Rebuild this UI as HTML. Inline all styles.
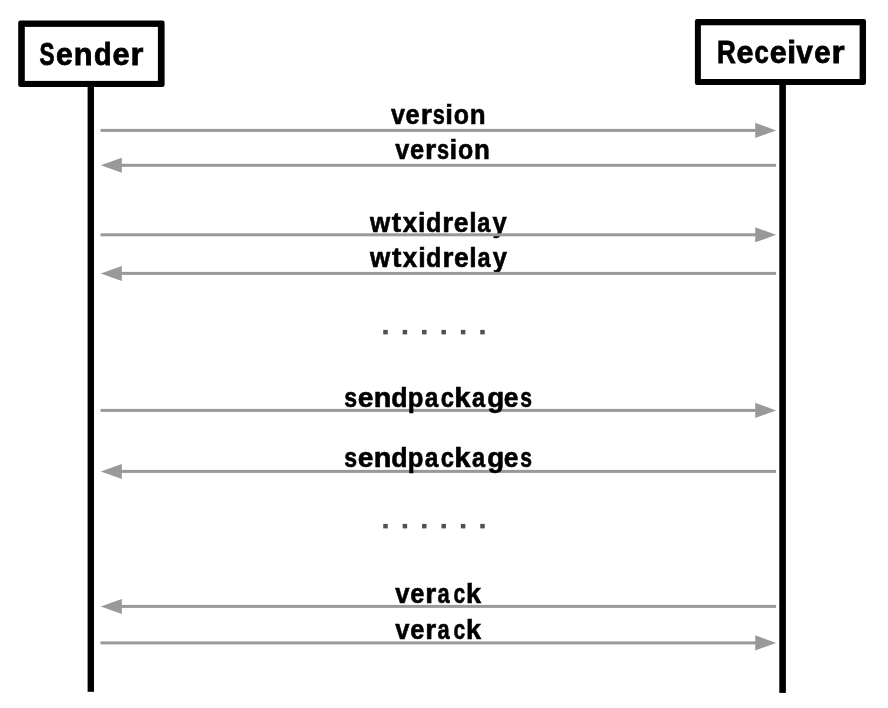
<!DOCTYPE html>
<html>
<head>
<meta charset="utf-8">
<style>
html,body{margin:0;padding:0;background:#fff;}
body{width:888px;height:708px;overflow:hidden;position:relative;}
svg{position:absolute;left:0;top:0;will-change:transform;}
text{font-family:"Liberation Sans",sans-serif;font-weight:bold;fill:#000;}
</style>
</head>
<body>
<svg width="888" height="708" viewBox="0 0 888 708">
<rect x="87.6" y="84" width="6.4" height="607.8" fill="#000"/>
<rect x="779.3" y="82" width="6.6" height="610.9" fill="#000"/>
<rect x="18.2" y="20.5" width="146.4" height="66.5" rx="2.3" fill="#000"/>
<rect x="24.8" y="26.9" width="133.1" height="54.0" fill="#fff"/>
<rect x="694.9" y="18.9" width="171.1" height="66.2" rx="2.3" fill="#000"/>
<rect x="700.9" y="25.3" width="158.7" height="53.7" fill="#fff"/>
<text transform="matrix(0.7525,0,0,1.0490,39.57,65)" font-size="30" stroke="#000" stroke-width="0.8">S</text><text transform="matrix(1.0033,0,0,1.0340,56.05,65)" font-size="30" stroke="#000" stroke-width="0.8">e</text><text transform="matrix(1.0230,0,0,1.0380,73.87,65)" font-size="30" stroke="#000" stroke-width="0.8">n</text><text transform="matrix(0.9594,0,0,1.0310,93.98,65)" font-size="30" stroke="#000" stroke-width="0.8">d</text><text transform="matrix(1.0230,0,0,1.0340,112.53,65)" font-size="30" stroke="#000" stroke-width="0.8">e</text><text transform="matrix(1.1000,0,0,1.0340,130.45,65)" font-size="30" stroke="#000" stroke-width="0.8">r</text><text transform="matrix(0.8691,0,0,1.0276,717.10,63)" font-size="30" stroke="#000" stroke-width="0.8">R</text><text transform="matrix(1.0164,0,0,1.0480,736.44,63)" font-size="30" stroke="#000" stroke-width="0.8">e</text><text transform="matrix(0.8516,0,0,1.0480,754.46,63)" font-size="30" stroke="#000" stroke-width="0.8">c</text><text transform="matrix(1.0098,0,0,1.0480,769.74,63)" font-size="30" stroke="#000" stroke-width="0.8">e</text><text transform="matrix(1.0611,0,0,1.0670,787.20,63)" font-size="30" stroke="#000" stroke-width="0.8">i</text><text transform="matrix(0.9913,0,0,1.0190,796.35,63)" font-size="30" stroke="#000" stroke-width="0.8">v</text><text transform="matrix(0.9803,0,0,1.0480,814.16,63)" font-size="30" stroke="#000" stroke-width="0.8">e</text><text transform="matrix(1.1200,0,0,1.0430,831.62,63)" font-size="30" stroke="#000" stroke-width="0.8">r</text>
<text transform="matrix(0.9000,0,0,1.0000,391.03,124)" font-size="28" stroke="#000" stroke-width="0.6">v</text><text transform="matrix(0.9088,0,0,1.0000,405.62,124)" font-size="28" stroke="#000" stroke-width="0.6">e</text><text transform="matrix(1.0324,0,0,1.0000,420.80,124)" font-size="28" stroke="#000" stroke-width="0.6">r</text><text transform="matrix(0.7757,0,0,1.0000,432.72,124)" font-size="28" stroke="#000" stroke-width="0.6">s</text><text transform="matrix(0.9882,0,0,1.0000,445.27,124)" font-size="28" stroke="#000" stroke-width="0.6">i</text><text transform="matrix(0.8903,0,0,1.0000,453.63,124)" font-size="28" stroke="#000" stroke-width="0.6">o</text><text transform="matrix(0.9263,0,0,1.0000,469.81,124)" font-size="28" stroke="#000" stroke-width="0.6">n</text><text transform="matrix(0.9000,0,0,1.0000,395.33,158.9)" font-size="28" stroke="#000" stroke-width="0.6">v</text><text transform="matrix(0.9088,0,0,1.0000,409.92,158.9)" font-size="28" stroke="#000" stroke-width="0.6">e</text><text transform="matrix(1.0324,0,0,1.0000,425.10,158.9)" font-size="28" stroke="#000" stroke-width="0.6">r</text><text transform="matrix(0.7757,0,0,1.0000,437.02,158.9)" font-size="28" stroke="#000" stroke-width="0.6">s</text><text transform="matrix(0.9882,0,0,1.0000,449.57,158.9)" font-size="28" stroke="#000" stroke-width="0.6">i</text><text transform="matrix(0.8903,0,0,1.0000,457.93,158.9)" font-size="28" stroke="#000" stroke-width="0.6">o</text><text transform="matrix(0.9263,0,0,1.0000,474.11,158.9)" font-size="28" stroke="#000" stroke-width="0.6">n</text><text transform="matrix(0.9279,0,0,1.0000,369.96,231.7)" font-size="28" stroke="#000" stroke-width="0.6">w</text><text transform="matrix(1.0054,0,0,1.0000,391.85,231.7)" font-size="28" stroke="#000" stroke-width="0.6">t</text><text transform="matrix(0.9250,0,0,1.0000,402.68,231.7)" font-size="28" stroke="#000" stroke-width="0.6">x</text><text transform="matrix(0.9647,0,0,1.0000,418.06,231.7)" font-size="28" stroke="#000" stroke-width="0.6">i</text><text transform="matrix(0.8976,0,0,1.0000,425.94,231.7)" font-size="28" stroke="#000" stroke-width="0.6">d</text><text transform="matrix(1.0054,0,0,1.0000,442.24,231.7)" font-size="28" stroke="#000" stroke-width="0.6">r</text><text transform="matrix(0.9474,0,0,1.0000,453.74,231.7)" font-size="28" stroke="#000" stroke-width="0.6">e</text><text transform="matrix(0.9529,0,0,1.0000,469.13,231.7)" font-size="28" stroke="#000" stroke-width="0.6">l</text><text transform="matrix(0.8387,0,0,1.0000,477.23,231.7)" font-size="28" stroke="#000" stroke-width="0.6">a</text><text transform="matrix(0.9125,0,0,1.0000,492.58,231.7)" font-size="28" stroke="#000" stroke-width="0.6">y</text><text transform="matrix(0.9279,0,0,1.0000,370.11,267)" font-size="28" stroke="#000" stroke-width="0.6">w</text><text transform="matrix(1.0054,0,0,1.0000,392.00,267)" font-size="28" stroke="#000" stroke-width="0.6">t</text><text transform="matrix(0.9250,0,0,1.0000,402.83,267)" font-size="28" stroke="#000" stroke-width="0.6">x</text><text transform="matrix(0.9647,0,0,1.0000,418.21,267)" font-size="28" stroke="#000" stroke-width="0.6">i</text><text transform="matrix(0.8976,0,0,1.0000,426.09,267)" font-size="28" stroke="#000" stroke-width="0.6">d</text><text transform="matrix(1.0054,0,0,1.0000,442.39,267)" font-size="28" stroke="#000" stroke-width="0.6">r</text><text transform="matrix(0.9474,0,0,1.0000,453.89,267)" font-size="28" stroke="#000" stroke-width="0.6">e</text><text transform="matrix(0.9529,0,0,1.0000,469.28,267)" font-size="28" stroke="#000" stroke-width="0.6">l</text><text transform="matrix(0.8387,0,0,1.0000,477.38,267)" font-size="28" stroke="#000" stroke-width="0.6">a</text><text transform="matrix(0.9125,0,0,1.0000,492.73,267)" font-size="28" stroke="#000" stroke-width="0.6">y</text><text transform="matrix(0.9125,0,0,1.0000,395.23,603.2)" font-size="28" stroke="#000" stroke-width="0.6">v</text><text transform="matrix(0.9123,0,0,1.0000,410.32,603.2)" font-size="28" stroke="#000" stroke-width="0.6">e</text><text transform="matrix(1.0054,0,0,1.0000,425.29,603.2)" font-size="28" stroke="#000" stroke-width="0.6">r</text><text transform="matrix(0.7806,0,0,1.0000,437.61,603.2)" font-size="28" stroke="#000" stroke-width="0.6">a</text><text transform="matrix(0.7509,0,0,1.0000,453.49,603.2)" font-size="28" stroke="#000" stroke-width="0.6">c</text><text transform="matrix(0.9684,0,0,1.0000,466.11,603.2)" font-size="28" stroke="#000" stroke-width="0.6">k</text><text transform="matrix(0.9125,0,0,1.0000,395.23,639.3)" font-size="28" stroke="#000" stroke-width="0.6">v</text><text transform="matrix(0.9123,0,0,1.0000,410.32,639.3)" font-size="28" stroke="#000" stroke-width="0.6">e</text><text transform="matrix(1.0054,0,0,1.0000,425.29,639.3)" font-size="28" stroke="#000" stroke-width="0.6">r</text><text transform="matrix(0.7806,0,0,1.0000,437.61,639.3)" font-size="28" stroke="#000" stroke-width="0.6">a</text><text transform="matrix(0.7509,0,0,1.0000,453.49,639.3)" font-size="28" stroke="#000" stroke-width="0.6">c</text><text transform="matrix(0.9684,0,0,1.0000,466.11,639.3)" font-size="28" stroke="#000" stroke-width="0.6">k</text>
<g fill="#999999">
<rect x="100.5" y="128.90" width="655.70" height="3"/><polygon points="755.20,122.85 776.20,130.40 755.20,137.95"/><rect x="120.80" y="163.80" width="655.30" height="3"/><polygon points="121.80,157.80 100.80,165.30 121.80,172.80"/><rect x="100.5" y="233.30" width="655.70" height="3"/><polygon points="755.20,227.25 776.20,234.80 755.20,242.35"/><rect x="120.80" y="271.90" width="655.30" height="3"/><polygon points="121.80,265.90 100.80,273.40 121.80,280.90"/><rect x="100.5" y="408.90" width="655.70" height="3"/><polygon points="755.20,402.85 776.20,410.40 755.20,417.95"/><rect x="120.80" y="469.90" width="655.30" height="3"/><polygon points="121.80,463.90 100.80,471.40 121.80,478.90"/><rect x="120.80" y="604.90" width="655.30" height="3"/><polygon points="121.80,598.90 100.80,606.40 121.80,613.90"/><rect x="100.5" y="641.40" width="655.70" height="3"/><polygon points="755.20,635.35 776.20,642.90 755.20,650.45"/>
</g>
<text transform="matrix(0.8257,0,0,1.0000,344.18,407)" font-size="28" stroke="#000" stroke-width="0.6">s</text><text transform="matrix(1.0105,0,0,1.0000,357.84,407)" font-size="28" stroke="#000" stroke-width="0.6">e</text><text transform="matrix(1.0316,0,0,1.0000,373.65,407)" font-size="28" stroke="#000" stroke-width="0.6">n</text><text transform="matrix(0.9559,0,0,1.0000,391.18,407)" font-size="28" stroke="#000" stroke-width="0.6">d</text><text transform="matrix(0.9153,0,0,1.0000,407.73,407)" font-size="28" stroke="#000" stroke-width="0.6">p</text><text transform="matrix(0.8774,0,0,1.0000,424.76,407)" font-size="28" stroke="#000" stroke-width="0.6">a</text><text transform="matrix(0.8491,0,0,1.0000,440.66,407)" font-size="28" stroke="#000" stroke-width="0.6">c</text><text transform="matrix(1.0456,0,0,1.0000,454.17,407)" font-size="28" stroke="#000" stroke-width="0.6">k</text><text transform="matrix(0.8452,0,0,1.0000,471.88,407)" font-size="28" stroke="#000" stroke-width="0.6">a</text><text transform="matrix(0.9932,0,0,1.0000,487.16,407)" font-size="28" stroke="#000" stroke-width="0.6">g</text><text transform="matrix(0.9474,0,0,1.0000,503.79,407)" font-size="28" stroke="#000" stroke-width="0.6">e</text><text transform="matrix(0.7536,0,0,1.0000,520.28,407)" font-size="28" stroke="#000" stroke-width="0.6">s</text><text transform="matrix(0.8257,0,0,1.0000,344.18,467)" font-size="28" stroke="#000" stroke-width="0.6">s</text><text transform="matrix(1.0105,0,0,1.0000,357.84,467)" font-size="28" stroke="#000" stroke-width="0.6">e</text><text transform="matrix(1.0316,0,0,1.0000,373.65,467)" font-size="28" stroke="#000" stroke-width="0.6">n</text><text transform="matrix(0.9559,0,0,1.0000,391.18,467)" font-size="28" stroke="#000" stroke-width="0.6">d</text><text transform="matrix(0.9153,0,0,1.0000,407.73,467)" font-size="28" stroke="#000" stroke-width="0.6">p</text><text transform="matrix(0.8774,0,0,1.0000,424.76,467)" font-size="28" stroke="#000" stroke-width="0.6">a</text><text transform="matrix(0.8491,0,0,1.0000,440.66,467)" font-size="28" stroke="#000" stroke-width="0.6">c</text><text transform="matrix(1.0456,0,0,1.0000,454.17,467)" font-size="28" stroke="#000" stroke-width="0.6">k</text><text transform="matrix(0.8452,0,0,1.0000,471.88,467)" font-size="28" stroke="#000" stroke-width="0.6">a</text><text transform="matrix(0.9932,0,0,1.0000,487.16,467)" font-size="28" stroke="#000" stroke-width="0.6">g</text><text transform="matrix(0.9474,0,0,1.0000,503.79,467)" font-size="28" stroke="#000" stroke-width="0.6">e</text><text transform="matrix(0.7536,0,0,1.0000,520.28,467)" font-size="28" stroke="#000" stroke-width="0.6">s</text>
<g fill="#505050">
<rect x="383.25" y="329.9" width="4.5" height="4.5"/><rect x="402.65" y="329.9" width="4.5" height="4.5"/><rect x="422.05" y="329.9" width="4.5" height="4.5"/><rect x="441.45" y="329.9" width="4.5" height="4.5"/><rect x="460.85" y="329.9" width="4.5" height="4.5"/><rect x="480.25" y="329.9" width="4.5" height="4.5"/>
<rect x="383.25" y="523.9" width="4.5" height="4.5"/><rect x="402.65" y="523.9" width="4.5" height="4.5"/><rect x="422.05" y="523.9" width="4.5" height="4.5"/><rect x="441.45" y="523.9" width="4.5" height="4.5"/><rect x="460.85" y="523.9" width="4.5" height="4.5"/><rect x="480.25" y="523.9" width="4.5" height="4.5"/>
</g>
</svg>
</body>
</html>
